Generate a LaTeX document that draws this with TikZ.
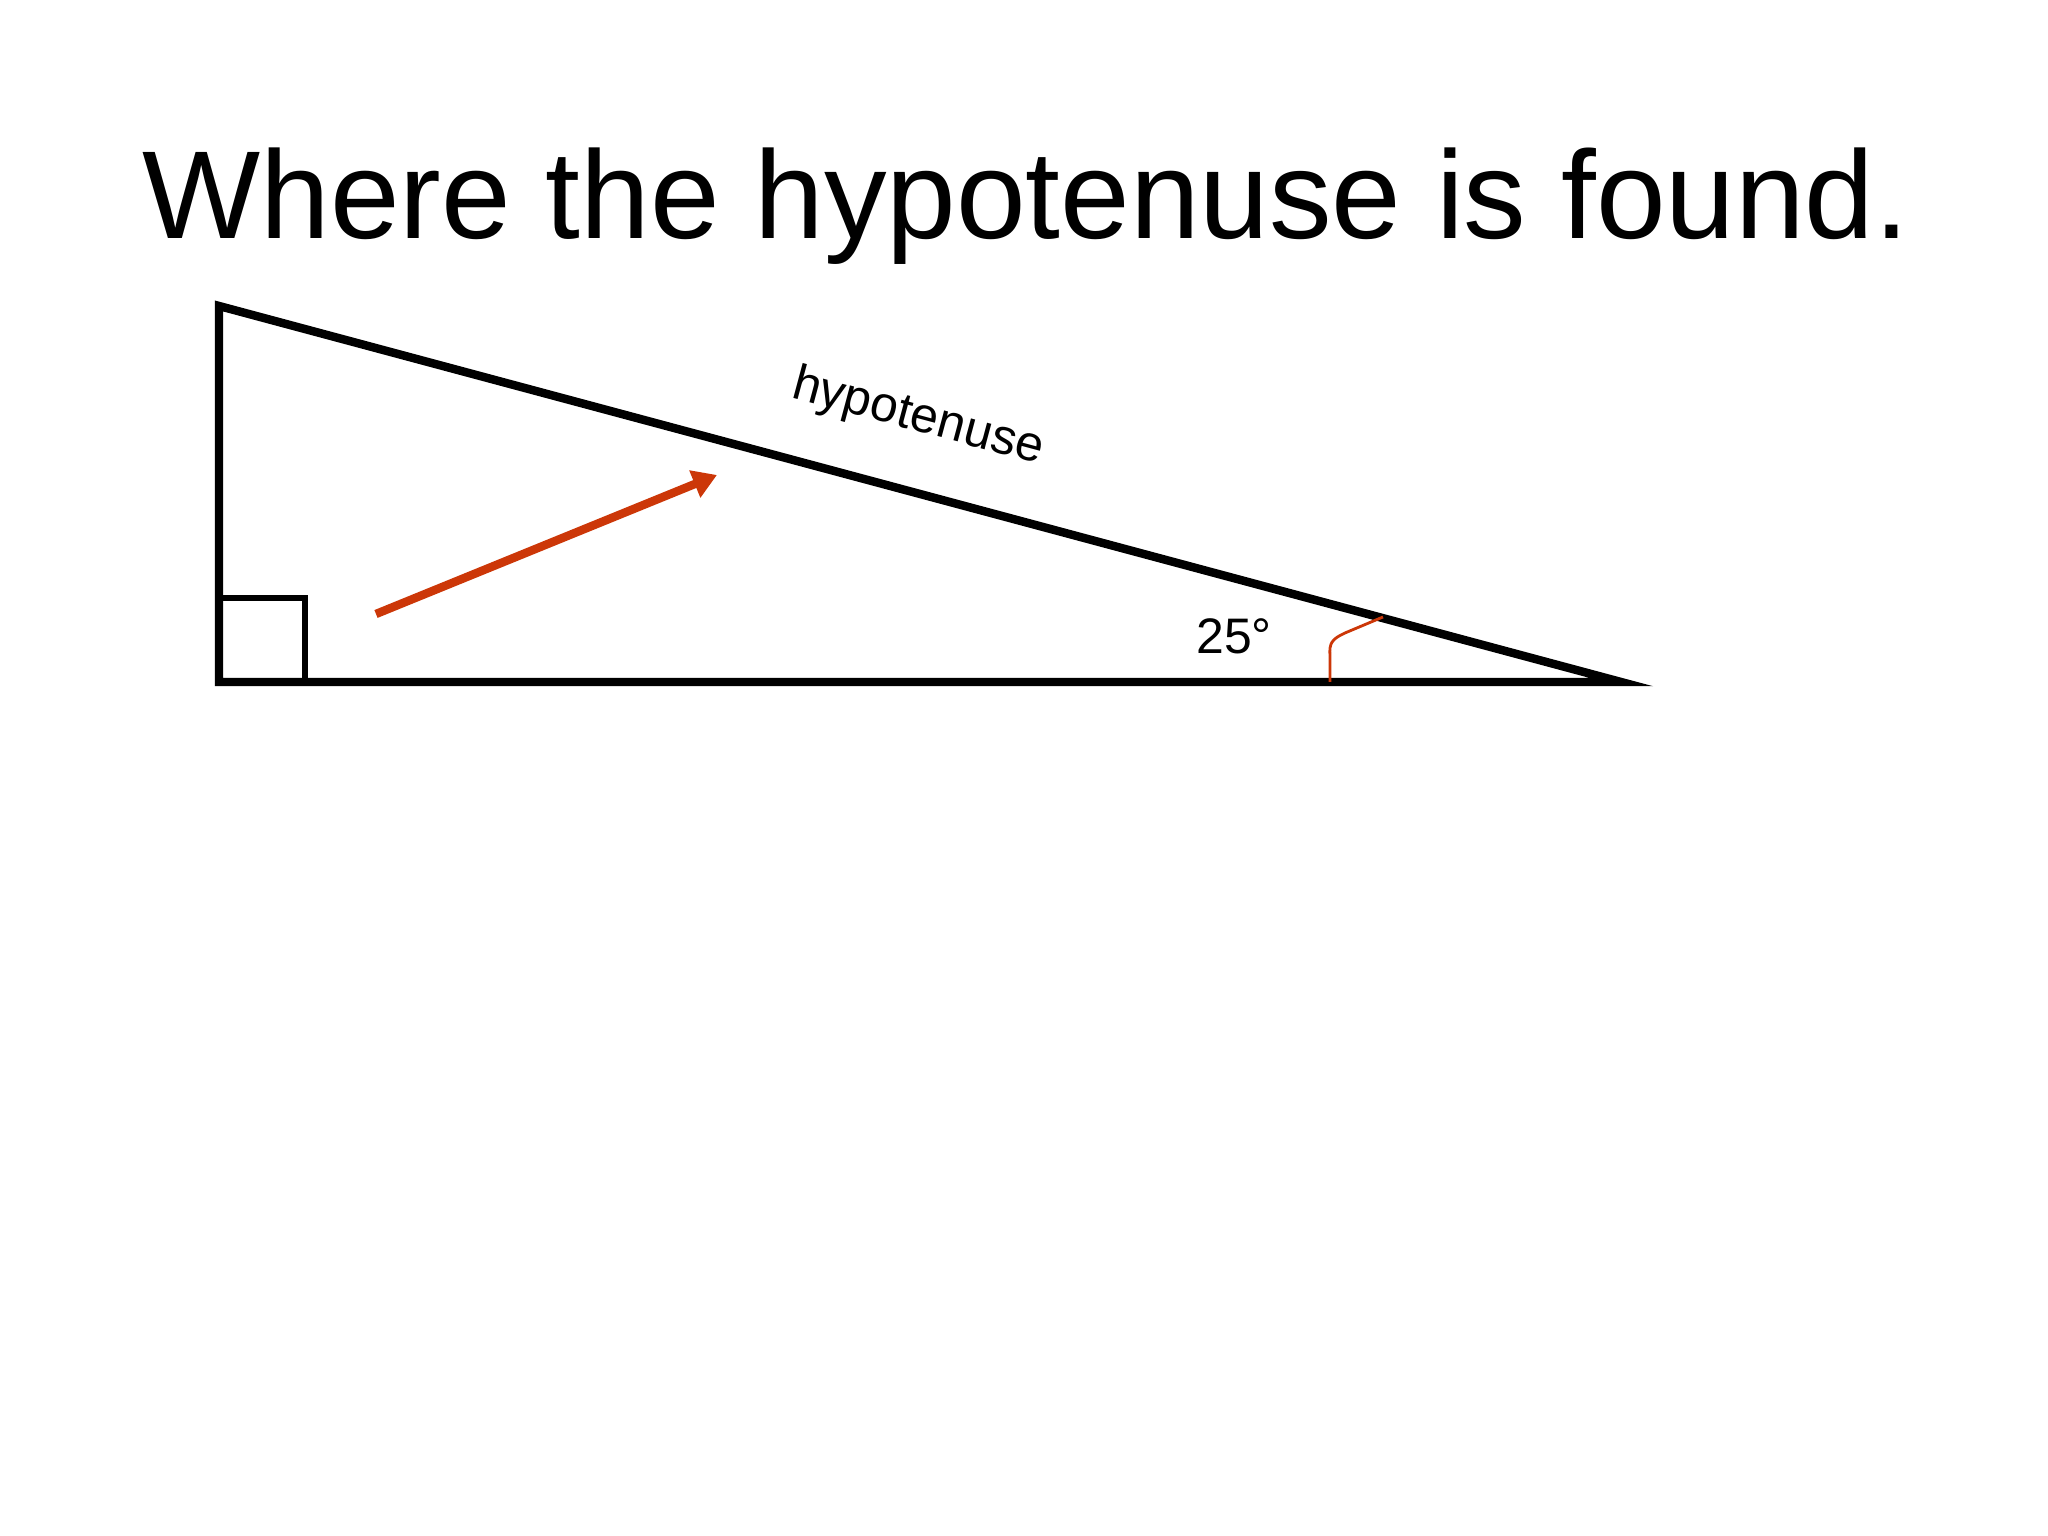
\documentclass[tikz,border=0pt]{standalone}
\usepackage{fontspec}
\setmainfont{Liberation Sans}
\usepackage{xcolor}
\usetikzlibrary{arrows.meta}
\definecolor{arrowred}{RGB}{204,55,8}

\begin{document}
\begin{tikzpicture}[
    side/.style={line width=2.4pt},
    redline/.style={draw=arrowred}
]
\useasboundingbox (0,0) rectangle (20.48,15.36);

% Define coordinates for the triangle
\coordinate (A) at (2.19,12.30);
\coordinate (B) at (2.19,8.54);
\coordinate (C) at (16.21,8.54);
\coordinate (Q) at (3.05,9.38);
% Title
\node[anchor=base,font=\fontsize{35.6}{40}\selectfont] (title) at (10.26,12.97) {Where the hypotenuse is found.};

% Draw the triangle
\draw[side] (A) -- (B) -- (C) -- cycle;

% Right angle mark
\draw[line width=1.6pt] (B |- Q) -- (Q) -- (Q |- B);

% Label on the hypotenuse
\node[rotate=-15,font=\fontsize{14.2}{16}\selectfont] (hyp) at (9.18,11.18) {hypotenuse};

% Red arrow pointing at the hypotenuse
\coordinate (arrstart) at (3.76,9.22);
\coordinate (arrend) at (7.17,10.61);
\draw[redline,line width=2.4pt,-{Triangle[length=0.24cm,width=0.28cm]}] (arrstart) -- (arrend);

% Angle mark at C
\coordinate (arcstart) at (13.30,8.54);
\coordinate (arcend) at (13.83,9.19);
\draw[redline,line width=0.8pt] (arcstart) -- (13.30,8.80) .. controls (13.29,8.93) and (13.32,8.97) .. (13.45,9.03) -- (arcend);
\node[font=\fontsize{14.2}{16}\selectfont] (angle) at (12.34,9.00) {25°};
\end{tikzpicture}
\end{document}
